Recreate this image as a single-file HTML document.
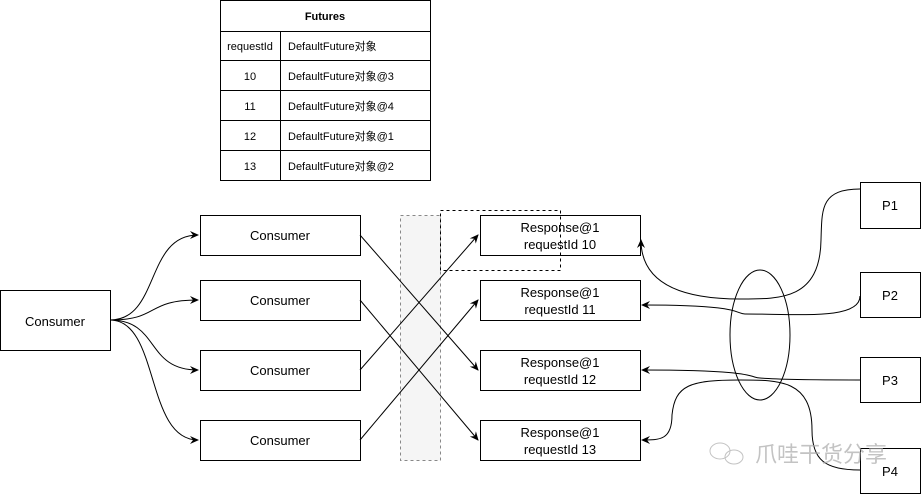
<!DOCTYPE html>
<html><head><meta charset="utf-8"><style>
body{margin:0;background:#fff;width:921px;height:494px;overflow:hidden;font-family:"Liberation Sans",Arial,"Noto Sans CJK SC",sans-serif}
</style></head><body>
<svg width="921" height="494" viewBox="0 0 921 494" xmlns="http://www.w3.org/2000/svg" font-family="Liberation Sans, Noto Sans CJK SC, sans-serif">
<defs><marker id="a" markerWidth="10" markerHeight="10" refX="8" refY="5" orient="auto" markerUnits="userSpaceOnUse"><path d="M0,1 L9,5 L0,9 L3,5z" fill="#000"/></marker></defs>
<!-- table -->
<g stroke="#000" fill="none" stroke-width="1">
<rect x="220.5" y="0.5" width="210" height="180"/>
<line x1="220" y1="31.5" x2="430" y2="31.5"/><line x1="220" y1="60.5" x2="430" y2="60.5"/><line x1="220" y1="90.5" x2="430" y2="90.5"/><line x1="220" y1="120.5" x2="430" y2="120.5"/><line x1="220" y1="150.5" x2="430" y2="150.5"/>
<line x1="280.5" y1="31" x2="280.5" y2="180"/>
</g>
<g font-size="11" fill="#000">
<text x="325" y="20" text-anchor="middle" font-weight="bold">Futures</text>
<text x="250" y="50" text-anchor="middle">requestId</text><text x="288" y="50">DefaultFuture对象</text>
<text x="250" y="80" text-anchor="middle">10</text><text x="288" y="80">DefaultFuture对象@3</text>
<text x="250" y="110" text-anchor="middle">11</text><text x="288" y="110">DefaultFuture对象@4</text>
<text x="250" y="140" text-anchor="middle">12</text><text x="288" y="140">DefaultFuture对象@1</text>
<text x="250" y="170" text-anchor="middle">13</text><text x="288" y="170">DefaultFuture对象@2</text>
</g>
<!-- band -->
<rect x="400.5" y="215.5" width="40" height="245" fill="#f5f5f5" stroke="#888" stroke-dasharray="3,3"/>
<g stroke="#000" fill="#fff">
<rect x="0.5" y="290.5" width="110" height="60"/>
<rect x="200.5" y="215.5" width="160" height="40"/><rect x="200.5" y="280.5" width="160" height="40"/><rect x="200.5" y="350.5" width="160" height="40"/><rect x="200.5" y="420.5" width="160" height="40"/>
<rect x="480.5" y="215.5" width="160" height="40"/><rect x="480.5" y="280.5" width="160" height="40"/><rect x="480.5" y="350.5" width="160" height="40"/><rect x="480.5" y="420.5" width="160" height="40"/>
<rect x="860.5" y="182.5" width="60" height="46"/><rect x="860.5" y="272.5" width="60" height="45"/><rect x="860.5" y="357.5" width="60" height="45"/><rect x="860.5" y="448.5" width="60" height="45"/>
</g>
<rect x="440.5" y="210.5" width="120" height="60" fill="none" stroke="#000" stroke-dasharray="3,3"/>
<g font-size="13" fill="#000" text-anchor="middle">
<text x="55" y="326">Consumer</text>
<text x="280" y="240">Consumer</text><text x="280" y="305">Consumer</text><text x="280" y="375">Consumer</text><text x="280" y="445">Consumer</text>
<text x="560" y="232">Response@1</text><text x="560" y="249">requestId 10</text>
<text x="560" y="297">Response@1</text><text x="560" y="314">requestId 11</text>
<text x="560" y="367">Response@1</text><text x="560" y="384">requestId 12</text>
<text x="560" y="437">Response@1</text><text x="560" y="454">requestId 13</text>
<text x="890" y="210">P1</text><text x="890" y="300">P2</text><text x="890" y="385">P3</text><text x="890" y="476">P4</text>
</g>
<g stroke="#000" fill="none" stroke-width="1">
<path d="M110,320 C160,320 145,235 198,235" marker-end="url(#a)"/>
<path d="M110,320 C160,320 145,300 198,300" marker-end="url(#a)"/>
<path d="M110,320 C160,320 145,370 198,370" marker-end="url(#a)"/>
<path d="M110,320 C160,320 145,440 198,440" marker-end="url(#a)"/>
<path d="M360,235 L478,370" marker-end="url(#a)"/>
<path d="M360,300 L478,440" marker-end="url(#a)"/>
<path d="M360,370 L478,235" marker-end="url(#a)"/>
<path d="M360,440 L478,300" marker-end="url(#a)"/>
<ellipse cx="760" cy="335" rx="30" ry="65"/>
<path d="M860,189 C820,189 822,210 821,240 C820,300 780,299 740,299 C660,299 641,270 641,240" marker-end="url(#a)"/>
<path d="M860,296 C860,320 800,314 745,314 C735,314 745,305 642,305" marker-end="url(#a)"/>
<path d="M860,380 C800,380 770,379 760,378 C750,378 760,370 642,370" marker-end="url(#a)"/>
<path d="M860,470 C825,470 812,460 812,430 C812,380 780,380 740,380 C690,380 675,385 672,415 C672,440 660,440 642,440" marker-end="url(#a)"/>
</g>
<g fill="#999" opacity="0.7">
<text x="755" y="462" font-size="22" fill="#aaa" font-family="Liberation Sans, Noto Sans CJK SC, sans-serif">爪哇干货分享</text>
<ellipse cx="720" cy="451" rx="10" ry="8" fill="none" stroke="#aaa"/><ellipse cx="734" cy="457" rx="9" ry="7" fill="none" stroke="#aaa"/>
</g>
</svg>
</body></html>
